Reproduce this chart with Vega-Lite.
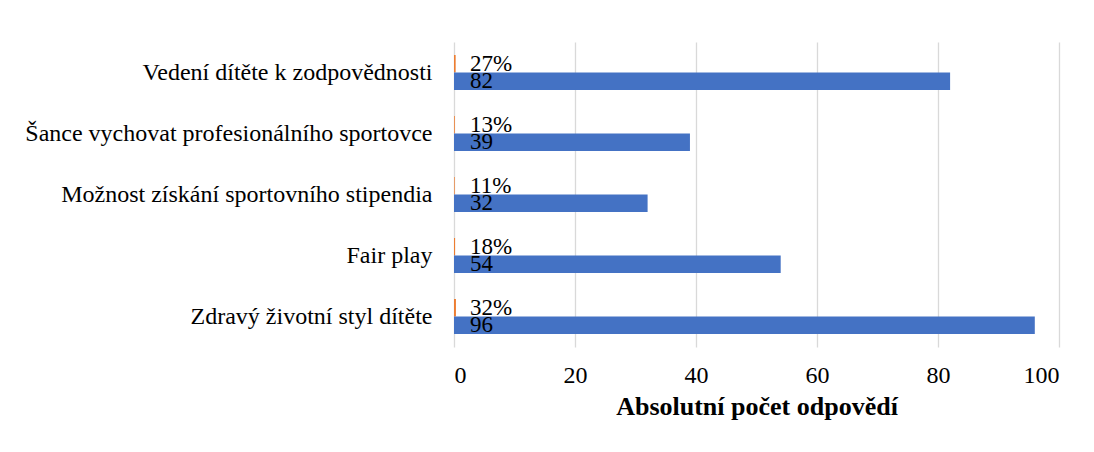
{
  "$schema": "https://vega.github.io/schema/vega-lite/v6.json",
  "width": 605,
  "height": 305,
  "autosize": {"type": "none"},
  "padding": {"left": 454, "top": 42, "right": 35, "bottom": 105},
  "background": "white",
  "config": {"view": {"stroke": null}, "font": "Liberation Serif"},
  "data": {
    "values": [
      {"kategorie": "Vedení dítěte k zodpovědnosti", "serie": "procenta", "hodnota": 0.27, "popisek": "27%"},
      {"kategorie": "Vedení dítěte k zodpovědnosti", "serie": "počet", "hodnota": 82, "popisek": "82"},
      {"kategorie": "Šance vychovat profesionálního sportovce", "serie": "procenta", "hodnota": 0.13, "popisek": "13%"},
      {"kategorie": "Šance vychovat profesionálního sportovce", "serie": "počet", "hodnota": 39, "popisek": "39"},
      {"kategorie": "Možnost získání sportovního stipendia", "serie": "procenta", "hodnota": 0.11, "popisek": "11%"},
      {"kategorie": "Možnost získání sportovního stipendia", "serie": "počet", "hodnota": 32, "popisek": "32"},
      {"kategorie": "Fair play", "serie": "procenta", "hodnota": 0.18, "popisek": "18%"},
      {"kategorie": "Fair play", "serie": "počet", "hodnota": 54, "popisek": "54"},
      {"kategorie": "Zdravý životní styl dítěte", "serie": "procenta", "hodnota": 0.32, "popisek": "32%"},
      {"kategorie": "Zdravý životní styl dítěte", "serie": "počet", "hodnota": 96, "popisek": "96"}
    ]
  },
  "encoding": {
    "y": {
      "field": "kategorie",
      "type": "nominal",
      "sort": ["Vedení dítěte k zodpovědnosti", "Šance vychovat profesionálního sportovce", "Možnost získání sportovního stipendia", "Fair play", "Zdravý životní styl dítěte"],
      "scale": {"paddingInner": 0.426, "paddingOuter": 0.213},
      "axis": {"title": null, "labelFontSize": 24, "labelColor": "#000000", "labelPadding": 22, "ticks": false, "domain": false, "labelLimit": 600, "labelFont": "Liberation Serif"}
    },
    "yOffset": {
      "field": "serie",
      "type": "nominal",
      "sort": ["procenta", "počet"],
      "scale": {"paddingInner": 0, "paddingOuter": 0}
    }
  },
  "layer": [
    {
      "mark": {"type": "bar"},
      "encoding": {
        "x": {
          "field": "hodnota",
          "type": "quantitative",
          "scale": {"domain": [0, 100]},
          "axis": {
            "values": [0, 20, 40, 60, 80, 100],
            "grid": true,
            "gridColor": "#d9d9d9",
            "gridWidth": 1.3,
            "domain": false,
            "ticks": false,
            "labelFontSize": 24,
            "labelColor": "#000000",
            "labelPadding": 16,
            "labelFont": "Liberation Serif",
            "title": "Absolutní počet odpovědí",
            "titleFont": "Liberation Serif",
            "titleFontSize": 26,
            "titleFontWeight": "bold",
            "titleColor": "#000000",
            "titlePadding": 6
          }
        },
        "color": {
          "field": "serie",
          "type": "nominal",
          "scale": {"domain": ["procenta", "počet"], "range": ["#ED7D31", "#4472C4"]},
          "legend": null
        }
      }
    },
    {
      "mark": {"type": "text", "align": "left", "baseline": "middle", "dx": 16, "fontSize": 23, "font": "Liberation Serif", "color": "#000000"},
      "encoding": {
        "x": {"datum": 0, "type": "quantitative"},
        "text": {"field": "popisek"}
      }
    }
  ]
}
